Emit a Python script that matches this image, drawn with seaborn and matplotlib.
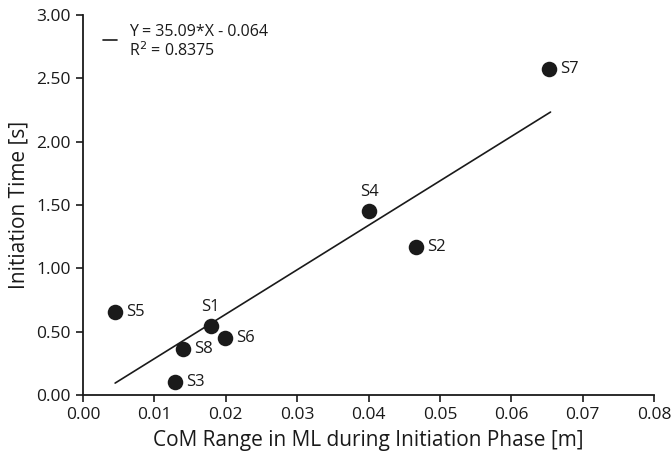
import matplotlib
matplotlib.use("Agg")
import matplotlib.pyplot as plt
import seaborn as sns
import numpy as np
import pandas as pd

subjects = ["S1", "S2", "S3", "S4", "S5", "S6", "S7", "S8"]
com_range = [0.0179, 0.0467, 0.0129, 0.0401, 0.0045, 0.0199, 0.0653, 0.0140]
init_time = [0.545, 1.168, 0.105, 1.452, 0.655, 0.450, 2.573, 0.363]
slope = 35.09
intercept = -0.064
fit_x = [0.0045, 0.0655]
x_ticks = [0.00, 0.01, 0.02, 0.03, 0.04, 0.05, 0.06, 0.07, 0.08]
y_ticks = [0.00, 0.50, 1.00, 1.50, 2.00, 2.50, 3.00]

sns.set_theme(style="ticks")
plt.rcParams['font.family'] = ['Open Sans', 'DejaVu Sans']

df = pd.DataFrame({"x": com_range, "y": init_time, "s": subjects})
fit_df = pd.DataFrame({"x": fit_x, "y": [slope * v + intercept for v in fit_x]})

fig = plt.figure(figsize=(6.71, 4.58), dpi=100)
ax = fig.add_axes([0.1237, 0.1376, 0.851, 0.8294])

sns.lineplot(data=fit_df, x="x", y="y", ax=ax, color="#1a1a1a", linewidth=1.2)
sns.scatterplot(data=df, x="x", y="y", ax=ax, color="#1a1a1a", s=125,
                edgecolor="#1a1a1a", linewidth=0, zorder=3)

offsets = {"S1": (0, 8, "center", "bottom"), "S4": (0, 8, "center", "bottom")}
for sx, sy, name in zip(com_range, init_time, subjects):
    dx, dy, ha, va = offsets.get(name, (8, 0, "left", "center"))
    ax.annotate(name, (sx, sy), xytext=(dx, dy), textcoords="offset points",
                ha=ha, va=va, fontsize=12, color="#1a1a1a")

ax.set_xlim(0, 0.08)
ax.set_ylim(0, 3.0)
ax.set_xticks(x_ticks)
ax.set_xticklabels([f"{v:.2f}" for v in x_ticks])
ax.set_yticks(y_ticks)
ax.set_yticklabels([f"{v:.2f}" for v in y_ticks])
ax.tick_params(axis="both", labelsize=12.5, colors="#1a1a1a", length=5, width=1.2, direction="out", pad=4)
sns.despine(ax=ax)
for sp in ["left", "bottom"]:
    ax.spines[sp].set_linewidth(1.3)
    ax.spines[sp].set_color("#1a1a1a")

ax.set_xlabel("CoM Range in ML during Initiation Phase [m]", fontsize=15, color="#1a1a1a", labelpad=5)
ax.set_ylabel("Initiation Time [s]", fontsize=15, color="#1a1a1a", labelpad=5)

# legend-like annotation
ax.plot([0.0028, 0.0048], [2.805, 2.805], color="#1a1a1a", linewidth=1.2)
ax.text(0.0065, 2.87, f"Y = {slope:.2f}*X - {abs(intercept):.3f}", fontsize=11.5,
        va="center", ha="left", color="#1a1a1a")
ax.text(0.0065, 2.72, "R$^2$ = 0.8375", fontsize=11.5, va="center", ha="left", color="#1a1a1a")

fig.savefig("out.png", dpi=100)
